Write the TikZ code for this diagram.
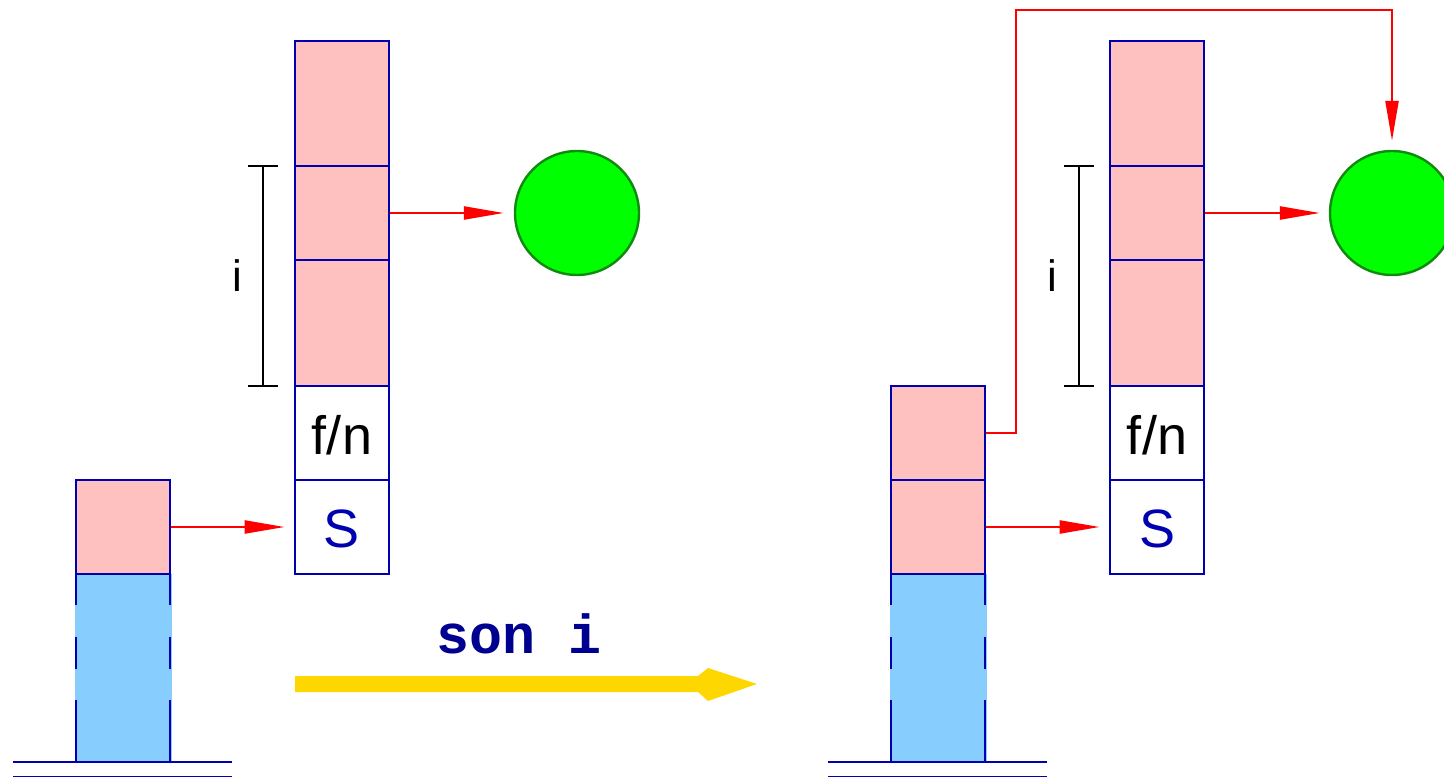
\documentclass[tikz,border=0pt]{standalone}
\usepackage{fontspec}
\setmainfont{Liberation Sans}
\newfontfamily\monobold{Liberation Mono}
\usetikzlibrary{arrows.meta}
\definecolor{bblue}{HTML}{0000B0}
\definecolor{cpink}{HTML}{FFC0C0}
\definecolor{cblue}{HTML}{87CEFF}
\definecolor{cgreen}{HTML}{00FF00}
\definecolor{dgreen}{HTML}{108A10}
\definecolor{cred}{HTML}{FF0000}
\definecolor{cgold}{HTML}{FFD700}
\definecolor{cnavy}{HTML}{000090}
\tikzset{
  cell/.style={draw=bblue, line width=2.8pt, minimum width=94pt, inner sep=0pt, anchor=center},
  pinkcell/.style={cell, fill=cpink},
  whitecell/.style={cell, fill=white},
  bluefill/.style={fill=cblue, draw=none, minimum width=97pt, minimum height=188pt, inner sep=0pt},
  dside/.style={draw=bblue, line width=2.8pt, dash pattern=on 31pt off 32pt on 32pt off 31pt on 62pt off 0pt},
  ground/.style={draw=bblue, line width=2.6pt},
  ground2/.style={draw=bblue, line width=1.6pt},
  ball/.style={circle, fill=cgreen, draw=dgreen, line width=2.4pt, minimum size=124pt, inner sep=0pt},
  ptr/.style={draw=cred, line width=2.3pt, -{Triangle[length=40pt,width=13pt]}},
  bracket/.style={draw=black, line width=2.4pt},
  lbl/.style={font=\fontsize{54}{60}\selectfont, inner sep=0pt, anchor=base},
  ilbl/.style={font=\fontsize{44}{50}\selectfont, inner sep=0pt, anchor=base},
}
\begin{document}
\begin{tikzpicture}[x=1pt,y=-1pt]
\useasboundingbox (0,0) rectangle (1444,778);

% ===== LEFT big stack =====
\node[pinkcell, minimum height=125pt] (L1) at (342,103.5) {};
\node[pinkcell, minimum height=94pt] (L2) at (342,213) {};
\node[pinkcell, minimum height=126pt] (L3) at (342,323) {};
\node[whitecell, minimum height=94pt] (L4) at (342,433) {};
\node[whitecell, minimum height=94pt] (L5) at (342,527) {};
\node[lbl] (Lfn) at (342,454) {f/n};
\node[lbl, text=bblue] (LS) at (342,547) {S};
% bracket
\draw[bracket] (248,166) -- (278,166) (263,166) -- (263,386) (248,386) -- (278,386);
\node[ilbl] (Li) at (237,292) {i};
% ball
\node[ball] (LC) at (577,213) {};
\draw[ptr, shorten >=10pt] (L2.east) -- (LC.west);

% ===== LEFT small stack =====
\node[bluefill] (SB) at (123,668) {};
\draw[dside] (76,574) -- (76,762);
\draw[dside] (170,574) -- (170,762);
\node[pinkcell, minimum height=94pt] (SP) at (123,527) {};
\coordinate (g1a) at (13,762); \coordinate (g1b) at (232,762);
\coordinate (g2a) at (13,776.5); \coordinate (g2b) at (232,776.5);
\draw[ground] (g1a) -- (g1b);
\draw[ground2] (g2a) -- (g2b);
\draw[ptr, shorten >=9pt] (SP.east) -- (L5.west);

% ===== yellow arrow and label =====
\fill[cgold] (295,676) -- (698,676) -- (708,668) -- (757,684) -- (708,701) -- (698,692) -- (295,692) -- cycle;
\node[anchor=base, inner sep=0pt, text=cnavy, font=\monobold\bfseries\fontsize{55}{60}\selectfont] (son) at (519,653) {son i};

% ===== RIGHT big stack =====
\node[pinkcell, minimum height=125pt] (R1) at (1157,103.5) {};
\node[pinkcell, minimum height=94pt] (R2) at (1157,213) {};
\node[pinkcell, minimum height=126pt] (R3) at (1157,323) {};
\node[whitecell, minimum height=94pt] (R4) at (1157,433) {};
\node[whitecell, minimum height=94pt] (R5) at (1157,527) {};
\node[lbl] (Rfn) at (1157,454) {f/n};
\node[lbl, text=bblue] (RS) at (1157,547) {S};
\draw[bracket] (1064,166) -- (1094,166) (1079,166) -- (1079,386) (1064,386) -- (1094,386);
\node[ilbl] (Ri) at (1052,292) {i};
\node[ball] (RC) at (1392,213) {};
\draw[ptr, shorten >=9pt] (R2.east) -- (RC.west);

% ===== RIGHT small stack =====
\node[bluefill] (TB) at (938,668) {};
\draw[dside] (891,574) -- (891,762);
\draw[dside] (985,574) -- (985,762);
\node[pinkcell, minimum height=94pt] (TP2) at (938,527) {};
\node[pinkcell, minimum height=94pt] (TP1) at (938,433) {};
\coordinate (h1a) at (828,762); \coordinate (h1b) at (1047,762);
\coordinate (h2a) at (828,776.5); \coordinate (h2b) at (1047,776.5);
\draw[ground] (h1a) -- (h1b);
\draw[ground2] (h2a) -- (h2b);
\draw[ptr, shorten >=9pt] (TP2.east) -- (R5.west);
\coordinate (turn) at (1016,10);
\draw[ptr, shorten >=9pt] (TP1.east) -| (turn) -| (RC.north);
\end{tikzpicture}
\end{document}
